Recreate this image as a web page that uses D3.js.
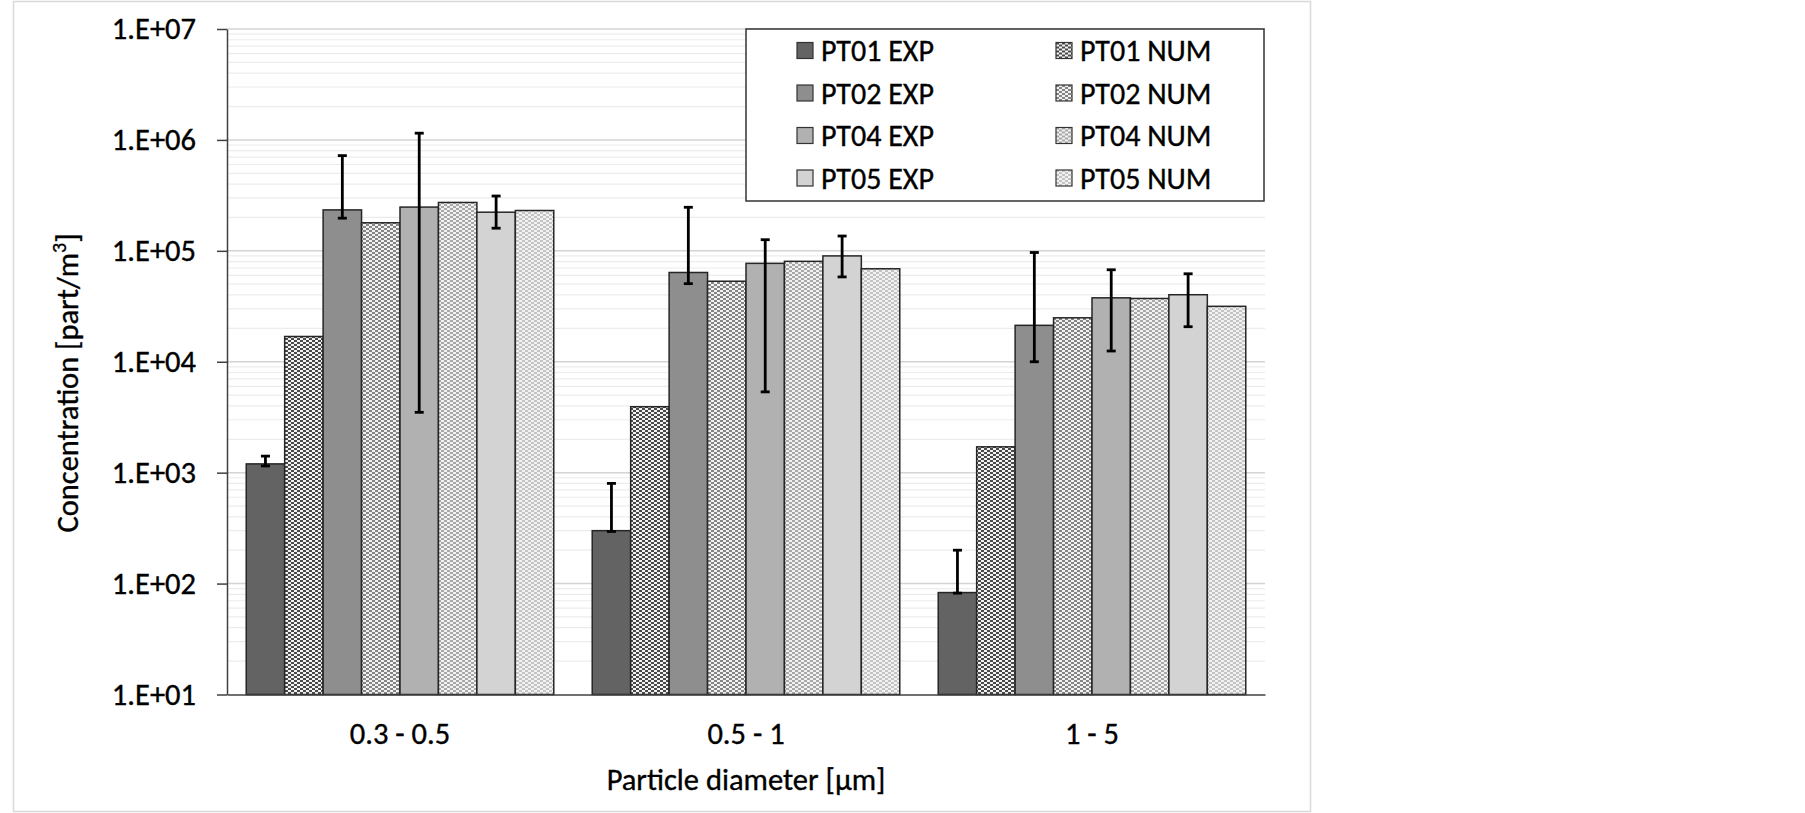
<!DOCTYPE html>
<html>
<head>
<meta charset="utf-8">
<script src="https://cdn.jsdelivr.net/npm/d3@7"></script>
<style>
  body { margin: 0; background: #fff; }
  svg text { font-family: Carlito, Calibri, Lato, sans-serif; fill: #000; stroke: #000; stroke-width: 0.35px; }
</style>
</head>
<body>
<div class="chart"></div>
<script>
// data
const categories = ["0.3 - 0.5", "0.5 - 1", "1 - 5"];
const seriesNames = ["PT01 EXP", "PT01 NUM", "PT02 EXP", "PT02 NUM",
                     "PT04 EXP", "PT04 NUM", "PT05 EXP", "PT05 NUM"];

const pt01Exp = [1200, 300, 83];
const pt01Num = [16900, 3930, 1710];
const pt02Exp = [234000, 63800, 21300];
const pt02Num = [179000, 53200, 24900];
const pt04Exp = [248000, 77100, 37700];
const pt04Num = [273000, 80400, 37200];
const pt05Exp = [223000, 90000, 40200];
const pt05Num = [231000, 68900, 31600];

// error bars (low, high) of the EXP series
const pt01Err = [[1150, 1410], [295, 800], [82, 200]];
const pt02Err = [[197000, 722000], [50600, 247000], [10000, 96600]];
const pt04Err = [[3500, 1150000], [5350, 126000], [12500, 67500]];
const pt05Err = [[160000, 312000], [58200, 136000], [20700, 62100]];

const yTicks = [1e1, 1e2, 1e3, 1e4, 1e5, 1e6, 1e7];

const seriesValues = [pt01Exp, pt01Num, pt02Exp, pt02Num, pt04Exp, pt04Num, pt05Exp, pt05Num];
const seriesErrors = [pt01Err, null, pt02Err, null, pt04Err, null, pt05Err, null];

const w = 1805;
const h = 813;
const plotLeft = 227, plotRight = 1265, plotTop = 29, plotBottom = 694.5;

const svg = d3.select(".chart")
              .append("svg")
              .attr("width", w)
              .attr("height", h);

// patterns for the NUM series
const defs = svg.append("defs");
const patternColors = {"PT01 NUM": "#4a4a4a", "PT02 NUM": "#858585", "PT04 NUM": "#a8a8a8", "PT05 NUM": "#c4c4c4"};
Object.keys(patternColors).forEach((name, i) => {
  const p = defs.append("pattern")
                .attr("id", "pat" + i)
                .attr("patternUnits", "userSpaceOnUse")
                .attr("width", 6)
                .attr("height", 4);
  p.append("rect").attr("width", 6).attr("height", 4).attr("fill", "#f2f2f2");
  p.append("rect").attr("width", 3).attr("height", 2).attr("fill", patternColors[name]);
  p.append("rect").attr("x", 3).attr("y", 2).attr("width", 3).attr("height", 2).attr("fill", patternColors[name]);
});

const fills = {
  "PT01 EXP": "#636363", "PT01 NUM": "url(#pat0)",
  "PT02 EXP": "#8e8e8e", "PT02 NUM": "url(#pat1)",
  "PT04 EXP": "#b1b1b1", "PT04 NUM": "url(#pat2)",
  "PT05 EXP": "#d3d3d3", "PT05 NUM": "url(#pat3)"
};

// outer frame
svg.append("rect")
   .attr("x", 13.5).attr("y", 1.5)
   .attr("width", 1297).attr("height", 810)
   .attr("fill", "#fff")
   .attr("stroke", "#d9d9d9")
   .attr("stroke-width", 1.5);

const y = d3.scaleLog()
            .domain([10, 1e7])
            .range([plotBottom, plotTop]);

const x0 = d3.scaleBand()
             .domain(categories)
             .range([plotLeft, plotRight]);

const x1 = d3.scaleBand()
             .domain(seriesNames)
             .range([0, x0.bandwidth()])
             .paddingOuter(0.5);

// gridlines
const minor = [];
yTicks.slice(0, -1).forEach(d => { for (let k = 2; k < 10; k++) minor.push(d * k); });
svg.append("g")
   .selectAll("line")
   .data(minor)
   .enter()
   .append("line")
   .attr("x1", plotLeft).attr("x2", plotRight)
   .attr("y1", d => y(d)).attr("y2", d => y(d))
   .attr("stroke", "#ececec")
   .attr("stroke-width", 1.2);
svg.append("g")
   .selectAll("line")
   .data(yTicks.slice(1))
   .enter()
   .append("line")
   .attr("x1", plotLeft).attr("x2", plotRight)
   .attr("y1", d => y(d)).attr("y2", d => y(d))
   .attr("stroke", "#d4d4d4")
   .attr("stroke-width", 1.5);

// bars
const groups = svg.append("g")
                  .selectAll("g")
                  .data(seriesNames)
                  .enter()
                  .append("g");

groups.selectAll("rect")
      .data((s, si) => categories.map((c, ci) => ({s: s, c: c, v: seriesValues[si][ci]})))
      .enter()
      .append("rect")
      .attr("x", d => x0(d.c) + x1(d.s))
      .attr("y", d => y(d.v))
      .attr("width", x1.bandwidth())
      .attr("height", d => plotBottom - y(d.v))
      .attr("fill", d => fills[d.s])
      .attr("stroke", "#262626")
      .attr("stroke-width", 1.5);

// error bars
const errData = [];
seriesNames.forEach((s, si) => {
  if (!seriesErrors[si]) return;
  categories.forEach((c, ci) => errData.push({s: s, c: c, lo: seriesErrors[si][ci][0], hi: seriesErrors[si][ci][1]}));
});
const cx = d => x0(d.c) + x1(d.s) + x1.bandwidth() / 2;
const err = svg.append("g")
               .attr("stroke", "#000")
               .attr("stroke-width", 2.8);
err.selectAll(".stem").data(errData).enter().append("line")
   .attr("x1", cx).attr("x2", cx)
   .attr("y1", d => y(d.lo)).attr("y2", d => y(d.hi));
err.selectAll(".capHi").data(errData).enter().append("line")
   .attr("x1", d => cx(d) - 4.5).attr("x2", d => cx(d) + 4.5)
   .attr("y1", d => y(d.hi)).attr("y2", d => y(d.hi));
err.selectAll(".capLo").data(errData).enter().append("line")
   .attr("x1", d => cx(d) - 4.5).attr("x2", d => cx(d) + 4.5)
   .attr("y1", d => y(d.lo)).attr("y2", d => y(d.lo));

// axes
const yAxis = d3.axisLeft(y)
                .tickValues(yTicks)
                .tickFormat(d => "1.E+0" + Math.round(Math.log10(d)))
                .tickSize(10)
                .tickSizeOuter(0)
                .tickPadding(21);
const gy = svg.append("g")
              .attr("transform", "translate(" + plotLeft + ",0)")
              .call(yAxis);
gy.selectAll("text").style("font-size", "30.5px");
gy.selectAll("line, path").attr("stroke", "#404040").attr("stroke-width", 1.5);

const xAxis = d3.axisBottom(x0)
                .tickSize(0)
                .tickPadding(28);
const gx = svg.append("g")
              .attr("transform", "translate(0," + plotBottom + ")")
              .call(xAxis);
gx.selectAll("text").style("font-size", "30.5px");
gx.select("path").attr("stroke", "#404040").attr("stroke-width", 1.5);

// axis titles
svg.append("text")
   .attr("x", (plotLeft + plotRight) / 2)
   .attr("y", 790)
   .attr("text-anchor", "middle")
   .style("font-size", "30.5px")
   .text("Particle diameter [\u03bcm]");

const yTitle = svg.append("text")
                  .attr("transform", "translate(78,383) rotate(-90)")
                  .attr("text-anchor", "middle")
                  .style("font-size", "30.5px");
yTitle.append("tspan").text("Concentration [part/m");
yTitle.append("tspan").attr("baseline-shift", "super").style("font-size", "20px").text("3");
yTitle.append("tspan").text("]");

// legend
const legend = svg.append("g");
legend.append("rect")
      .attr("x", 746).attr("y", 29)
      .attr("width", 518).attr("height", 172)
      .attr("fill", "#fff")
      .attr("stroke", "#333")
      .attr("stroke-width", 1.5);

const items = legend.selectAll(".item")
                    .data(seriesNames)
                    .enter()
                    .append("g")
                    .attr("transform", (d, i) => "translate(" + (i % 2 === 0 ? 797 : 1056) + "," + (50.5 + Math.floor(i / 2) * 42.5) + ")");
items.append("rect")
     .attr("x", 0).attr("y", -8)
     .attr("width", 16).attr("height", 16)
     .attr("fill", d => fills[d])
     .attr("stroke", "#333")
     .attr("stroke-width", 1.2);
items.append("text")
     .attr("x", 24)
     .attr("dy", "0.36em")
     .style("font-size", "30px")
     .text(d => d);
</script>
</body>
</html>
